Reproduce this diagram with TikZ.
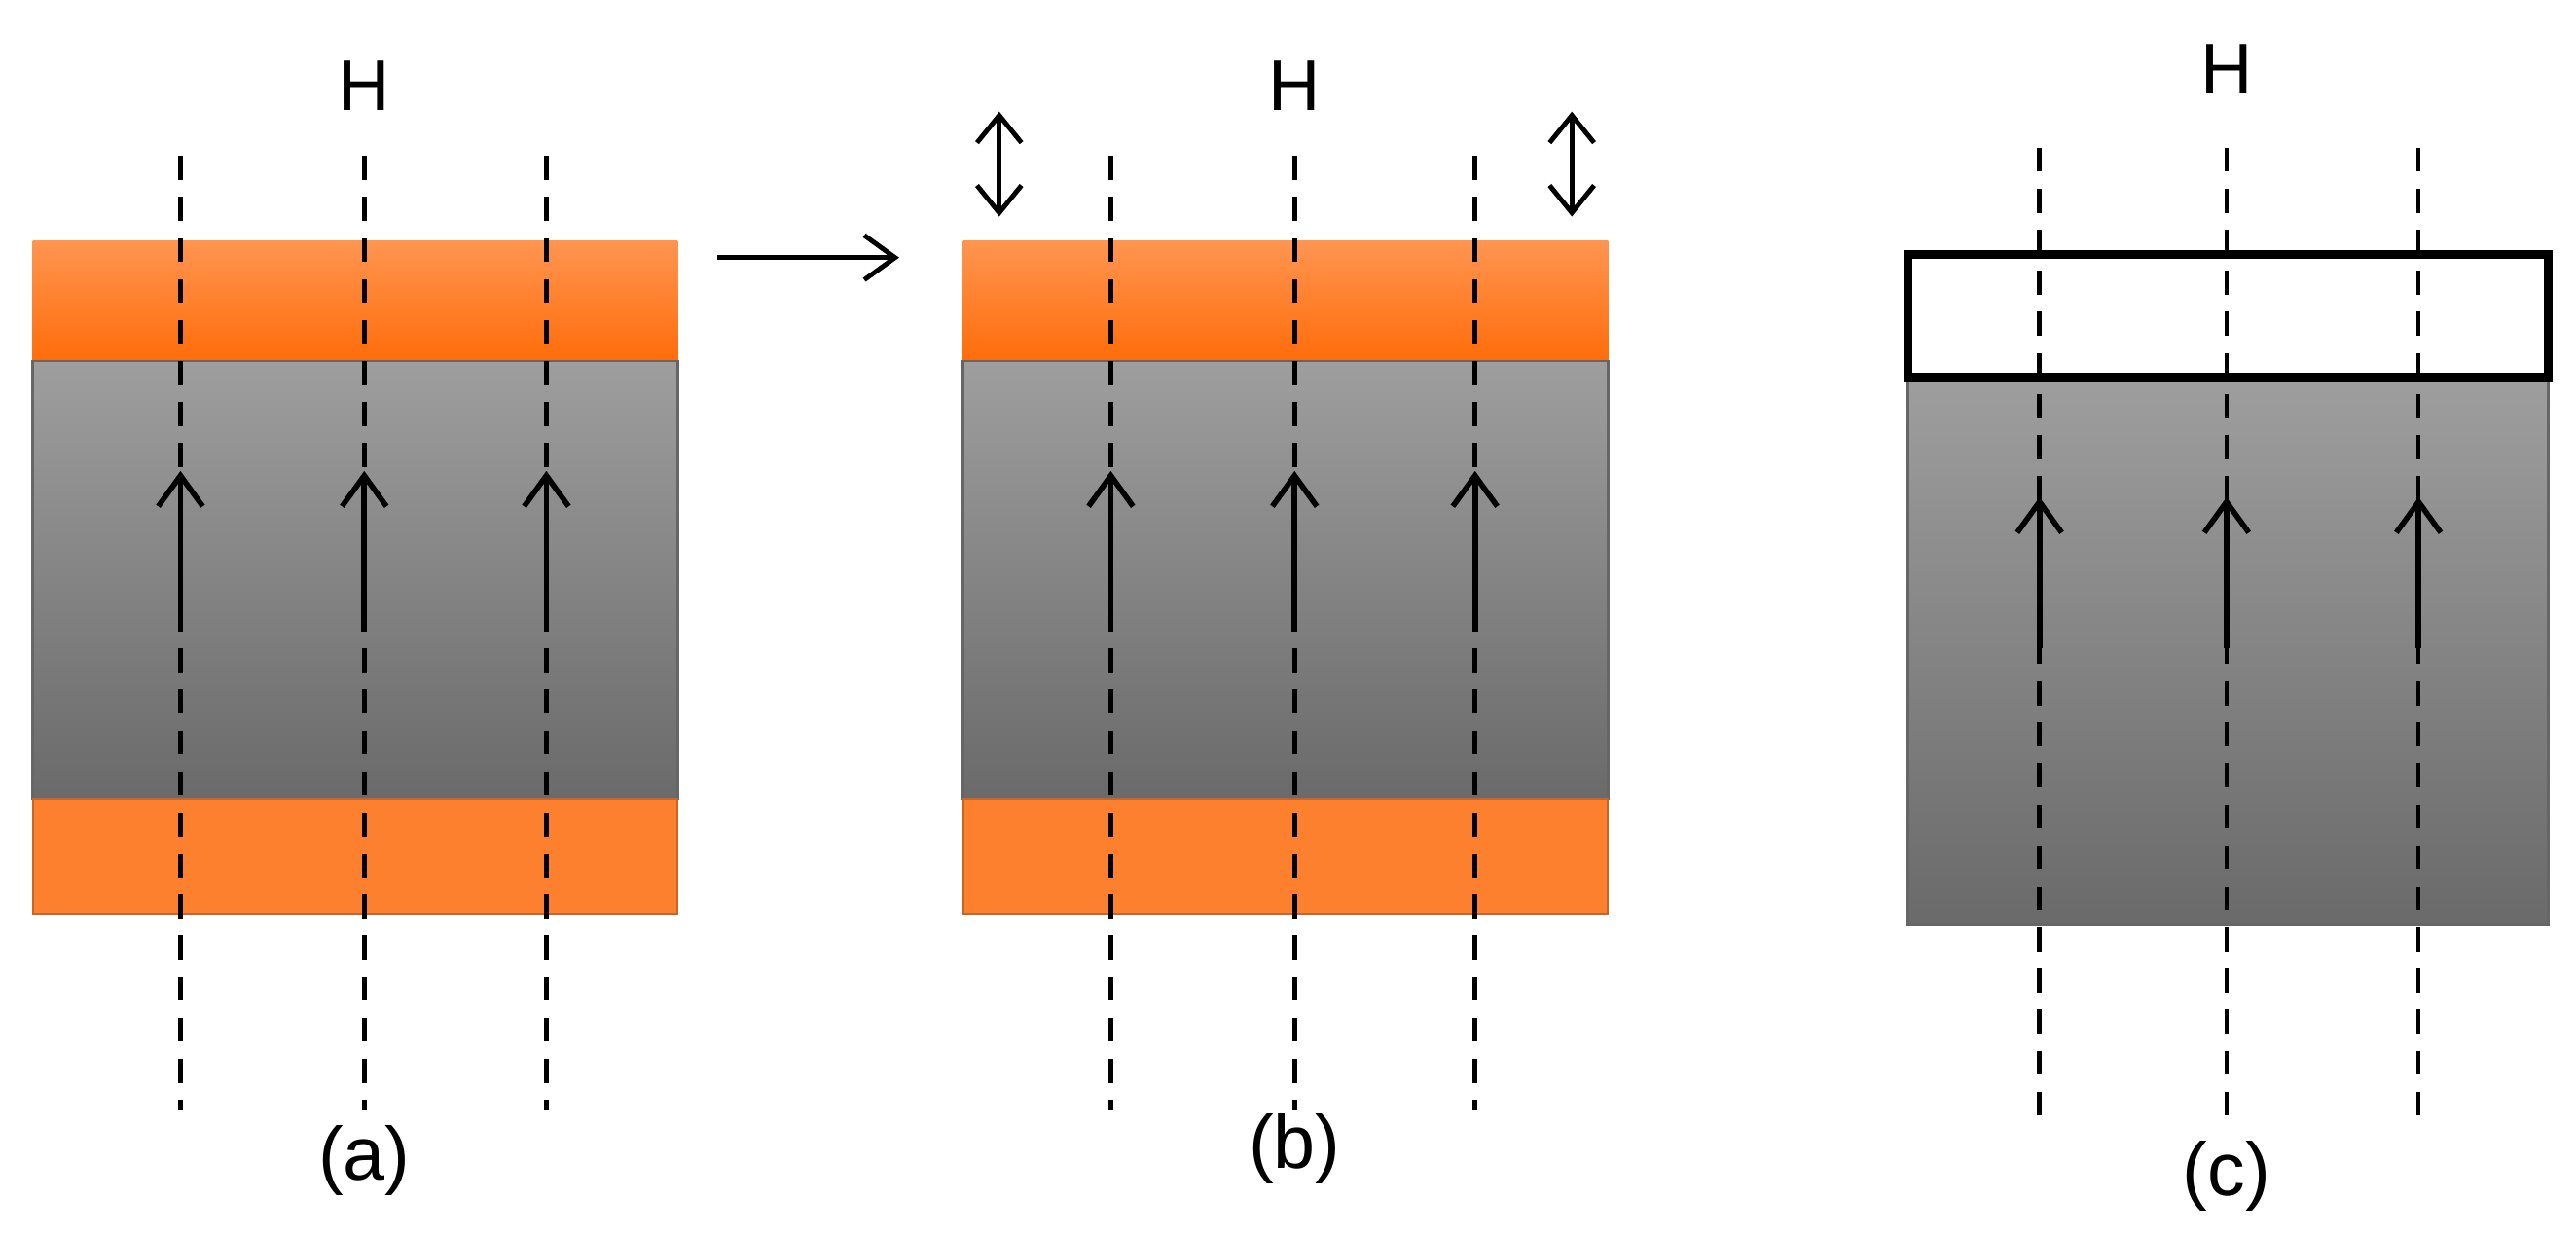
\documentclass[tikz,border=0pt]{standalone}
\usepackage{fontspec}
\setmainfont{Liberation Sans}
\usetikzlibrary{arrows.meta}
\definecolor{orA}{HTML}{FF9550}
\definecolor{orB}{HTML}{FF6C0A}
\definecolor{orC}{HTML}{FD802E}
\definecolor{grA}{HTML}{9E9E9E}
\definecolor{grB}{HTML}{6A6A6A}
\begin{document}
\begin{tikzpicture}[x=0.01686cm,y=-0.01686cm,
  topor/.style={top color=orA,bottom color=orB,draw=none},
  botor/.style={fill=orC,draw=orC!80!black,line width=0.5pt},
  gray/.style={top color=grA,bottom color=grB,draw=black!60,line width=0.8pt},
  field/.style={line width=1.3pt,dash pattern=on 7pt off 5pt},
  up/.style={-{Straight Barb[length=9pt,width=13pt]},line width=1.6pt},
  lbl/.style={font=\fontsize{22}{26}\selectfont},
  hl/.style={font=\fontsize{21}{25}\selectfont}]
\useasboundingbox (0,0) rectangle (1570,753);
% panel a
\path[topor] (20,147) rectangle (413,220);
\path[gray] (20,220) rectangle (413,487);
\path[botor] (20,487) rectangle (413,557);
\foreach \x/\n in {110/a1,222/a2,333/a3}{
  \coordinate (\n t) at (\x,95); \coordinate (\n b) at (\x,677);
  \draw[field] (\n t) -- (\n b);
  \coordinate (\n s) at (\x,385); \coordinate (\n e) at (\x,287);
  \draw[up] (\n s) -- (\n e);}
\node[hl] (Ha) at (222,52) {H};
\node[lbl] (la) at (222,707) {(a)};
% arrow
\coordinate (m1) at (437,157); \coordinate (m2) at (548,157);
\draw[-{Straight Barb[length=9pt,width=13pt]},line width=1.4pt] (m1) -- (m2);
% panel b
\path[topor] (587,147) rectangle (980,220);
\path[gray] (587,220) rectangle (980,487);
\path[botor] (587,487) rectangle (980,557);
\foreach \x/\n in {677/b1,789/b2,899/b3}{
  \coordinate (\n t) at (\x,95); \coordinate (\n b) at (\x,677);
  \draw[field] (\n t) -- (\n b);
  \coordinate (\n s) at (\x,385); \coordinate (\n e) at (\x,287);
  \draw[up] (\n s) -- (\n e);}
\foreach \x/\n in {609/d1,958/d2}{
  \coordinate (\n t) at (\x,68); \coordinate (\n b) at (\x,132);
  \draw[{Straight Barb[length=8pt,width=13pt]}-{Straight Barb[length=8pt,width=13pt]},line width=1.4pt] (\n t) -- (\n b);}
\node[hl] (Hb) at (789,52) {H};
\node[lbl] (lb) at (789,700) {(b)};
% panel c
\path[gray] (1163,230) rectangle (1553,563);
\draw[fill=white,line width=2.5pt] (1163,155) rectangle (1553,230);
\foreach \x/\n in {1243/c1,1357/c2,1474/c3}{
  \coordinate (\n t) at (\x,90); \coordinate (\n b) at (\x,683);
  \draw[field] (\n t) -- (\n b);
  \coordinate (\n s) at (\x,395); \coordinate (\n e) at (\x,303);
  \draw[up] (\n s) -- (\n e);}
\node[hl] (Hc) at (1357,42) {H};
\node[lbl] (lc) at (1357,717) {(c)};
\end{tikzpicture}
\end{document}
